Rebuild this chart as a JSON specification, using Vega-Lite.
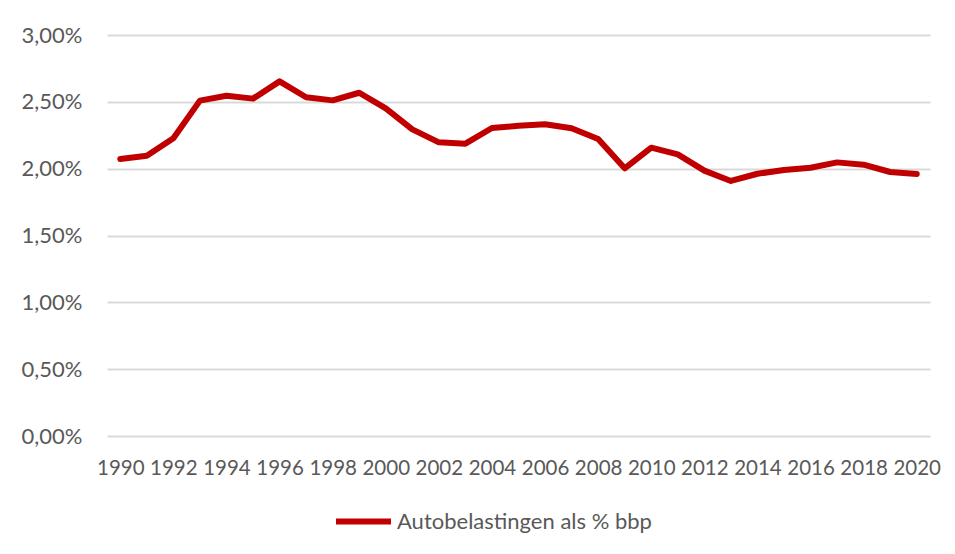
{
  "$schema": "https://vega.github.io/schema/vega-lite/v6.json",
  "width": 823,
  "height": 401,
  "autosize": "none",
  "padding": {"left": 107, "top": 35, "right": 25, "bottom": 118},
  "background": "white",
  "data": {"values": [
    {"jaar": 1990, "waarde": 0.02072, "reeks": "Autobelastingen als % bbp"},
    {"jaar": 1991, "waarde": 0.02097, "reeks": "Autobelastingen als % bbp"},
    {"jaar": 1992, "waarde": 0.02227, "reeks": "Autobelastingen als % bbp"},
    {"jaar": 1993, "waarde": 0.02509, "reeks": "Autobelastingen als % bbp"},
    {"jaar": 1994, "waarde": 0.02546, "reeks": "Autobelastingen als % bbp"},
    {"jaar": 1995, "waarde": 0.02524, "reeks": "Autobelastingen als % bbp"},
    {"jaar": 1996, "waarde": 0.02653, "reeks": "Autobelastingen als % bbp"},
    {"jaar": 1997, "waarde": 0.02534, "reeks": "Autobelastingen als % bbp"},
    {"jaar": 1998, "waarde": 0.02511, "reeks": "Autobelastingen als % bbp"},
    {"jaar": 1999, "waarde": 0.02568, "reeks": "Autobelastingen als % bbp"},
    {"jaar": 2000, "waarde": 0.02451, "reeks": "Autobelastingen als % bbp"},
    {"jaar": 2001, "waarde": 0.02294, "reeks": "Autobelastingen als % bbp"},
    {"jaar": 2002, "waarde": 0.02197, "reeks": "Autobelastingen als % bbp"},
    {"jaar": 2003, "waarde": 0.02187, "reeks": "Autobelastingen als % bbp"},
    {"jaar": 2004, "waarde": 0.02304, "reeks": "Autobelastingen als % bbp"},
    {"jaar": 2005, "waarde": 0.02321, "reeks": "Autobelastingen als % bbp"},
    {"jaar": 2006, "waarde": 0.02332, "reeks": "Autobelastingen als % bbp"},
    {"jaar": 2007, "waarde": 0.02302, "reeks": "Autobelastingen als % bbp"},
    {"jaar": 2008, "waarde": 0.02222, "reeks": "Autobelastingen als % bbp"},
    {"jaar": 2009, "waarde": 0.02003, "reeks": "Autobelastingen als % bbp"},
    {"jaar": 2010, "waarde": 0.02157, "reeks": "Autobelastingen als % bbp"},
    {"jaar": 2011, "waarde": 0.02107, "reeks": "Autobelastingen als % bbp"},
    {"jaar": 2012, "waarde": 0.01985, "reeks": "Autobelastingen als % bbp"},
    {"jaar": 2013, "waarde": 0.01908, "reeks": "Autobelastingen als % bbp"},
    {"jaar": 2014, "waarde": 0.01962, "reeks": "Autobelastingen als % bbp"},
    {"jaar": 2015, "waarde": 0.01990, "reeks": "Autobelastingen als % bbp"},
    {"jaar": 2016, "waarde": 0.02007, "reeks": "Autobelastingen als % bbp"},
    {"jaar": 2017, "waarde": 0.02047, "reeks": "Autobelastingen als % bbp"},
    {"jaar": 2018, "waarde": 0.02030, "reeks": "Autobelastingen als % bbp"},
    {"jaar": 2019, "waarde": 0.01975, "reeks": "Autobelastingen als % bbp"},
    {"jaar": 2020, "waarde": 0.01960, "reeks": "Autobelastingen als % bbp"}
  ]},
  "mark": {"type": "line", "strokeWidth": 6, "strokeJoin": "round", "strokeCap": "round"},
  "encoding": {
    "x": {
      "field": "jaar", "type": "quantitative",
      "scale": {"domain": [1989.5, 2020.5], "nice": false, "zero": false},
      "axis": {
        "values": [1990,1992,1994,1996,1998,2000,2002,2004,2006,2008,2010,2012,2014,2016,2018,2020],
        "format": "d", "title": null, "grid": false, "domain": false, "ticks": false,
        "labelPadding": 22, "labelFont": "Lato", "labelFontSize": 20.5, "labelColor": "#595959",
        "labelOverlap": false
      }
    },
    "y": {
      "field": "waarde", "type": "quantitative",
      "scale": {"domain": [0, 0.03], "nice": false},
      "axis": {
        "values": [0, 0.005, 0.01, 0.015, 0.02, 0.025, 0.03],
        "labelExpr": "replace(format(datum.value, '.2%'), '.', ',')",
        "title": null, "domain": false, "ticks": false, "grid": true,
        "gridColor": "#D9D9D9", "gridWidth": 2, "labelPadding": 25,
        "labelFont": "Lato", "labelFontSize": 22, "labelColor": "#595959"
      }
    },
    "stroke": {
      "field": "reeks", "type": "nominal",
      "scale": {"range": ["#C00000"]},
      "legend": {
        "orient": "none", "legendX": 226, "legendY": 456, "title": null, "symbolType": "stroke",
        "symbolSize": 3025, "symbolStrokeWidth": 6, "labelLimit": 400,
        "labelFont": "Lato", "labelFontSize": 22, "labelColor": "#595959", "labelOffset": 3
      }
    }
  },
  "config": {"view": {"stroke": null}}
}
